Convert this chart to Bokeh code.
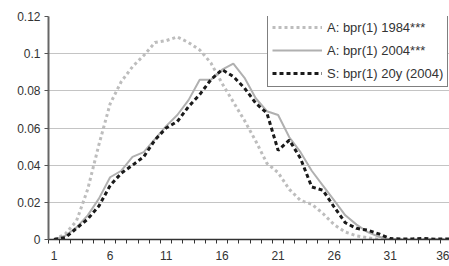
from bokeh.plotting import figure
from bokeh.models import Range1d, FixedTicker, CustomJSTickFormatter, Legend, LegendItem
from bokeh.embed import file_html
from bokeh.resources import INLINE

categories = list(range(1, 38))
a_1984 = [0.0, 0.003, 0.010, 0.027, 0.051, 0.073, 0.085, 0.093, 0.099, 0.106,
          0.107, 0.109, 0.106, 0.102, 0.095, 0.084, 0.074, 0.064, 0.053, 0.041,
          0.036, 0.027, 0.021, 0.019, 0.014, 0.008, 0.004, 0.002, 0.001, 0.0,
          0.0, 0.0, 0.0, 0.0, 0.0, 0.0, 0.0]
a_2004 = [0.0, 0.002, 0.0065, 0.013, 0.022, 0.0335, 0.037, 0.0445, 0.047, 0.054,
          0.061, 0.067, 0.075, 0.086, 0.086, 0.0914, 0.0946, 0.087, 0.076, 0.069,
          0.067, 0.055, 0.047, 0.037, 0.029, 0.021, 0.013, 0.008, 0.004, 0.0015,
          0.0, 0.0, 0.0, 0.0, 0.0, 0.0, 0.0]
s_2004 = [0.0, 0.001, 0.006, 0.011, 0.018, 0.029, 0.0357, 0.040, 0.0445, 0.0535,
          0.060, 0.0635, 0.0715, 0.078, 0.086, 0.0914, 0.0877, 0.0815, 0.0734, 0.068,
          0.048, 0.0535, 0.0436, 0.0283, 0.0265, 0.0175, 0.009, 0.006, 0.005, 0.003,
          0.0005, 0.0003, 0.0003, 0.0006, 0.0002, 0.0003, 0.0003]
x_tick_labels = [1, 6, 11, 16, 21, 26, 31, 36]
y_ticks = [0.0, 0.02, 0.04, 0.06, 0.08, 0.1, 0.12]
names = ["A: bpr(1) 1984***", "A: bpr(1) 2004***", "S: bpr(1) 20y (2004)"]

FONT = "Liberation Sans"
TXT = "#333333"

p = figure(width=449, height=266, output_backend="svg", toolbar_location=None,
           x_range=Range1d(0.5, 36.3), y_range=Range1d(0, 0.12),
           min_border_left=48, min_border_top=16, min_border_right=0, min_border_bottom=27)
p.outline_line_color = None
p.background_fill_color = "white"
p.border_fill_color = "white"

r1 = p.line(categories, a_1984, line_color="#bdbdbd", line_width=3, line_dash="3 3")
r2 = p.line(categories, a_2004, line_color="#b0b0b0", line_width=2)
r3 = p.line(categories, s_2004, line_color="#1a1a1a", line_width=3, line_dash="4 3")

# axes
p.xaxis.ticker = FixedTicker(ticks=x_tick_labels,
                             minor_ticks=[c - 0.5 for c in categories])
p.xaxis.major_tick_in = 0
p.xaxis.major_tick_out = 0
p.xaxis.minor_tick_in = 0
p.xaxis.minor_tick_out = 4
p.xaxis.minor_tick_line_color = "#333333"
p.xaxis.axis_line_color = "#333333"
p.xaxis.axis_line_width = 1.5
p.xaxis.major_label_text_font = FONT
p.xaxis.major_label_text_font_size = "12px"
p.xaxis.major_label_text_color = TXT
p.xaxis.major_label_standoff = 7

p.yaxis.ticker = FixedTicker(ticks=y_ticks, minor_ticks=[])
p.yaxis.formatter = CustomJSTickFormatter(code="return tick == 0 ? '0' : String(+tick.toFixed(2));")
p.yaxis.major_tick_in = 0
p.yaxis.major_tick_out = 4
p.yaxis.major_tick_line_color = "#555555"
p.yaxis.axis_line_color = "#666666"
p.yaxis.axis_line_width = 2
p.yaxis.major_label_text_font = FONT
p.yaxis.major_label_text_font_size = "12px"
p.yaxis.major_label_text_color = TXT
p.yaxis.major_label_standoff = 4

p.xgrid.grid_line_color = None
p.ygrid.ticker = FixedTicker(ticks=y_ticks)
p.ygrid.grid_line_color = "#c4c4c4"
p.ygrid.grid_line_width = 1

legend = Legend(items=[LegendItem(label=names[0], renderers=[r1]),
                       LegendItem(label=names[1], renderers=[r2]),
                       LegendItem(label=names[2], renderers=[r3])],
                location=(219, 152))
legend.border_line_color = "black"
legend.border_line_width = 1
legend.background_fill_color = "white"
legend.background_fill_alpha = 1
legend.label_text_font = FONT
legend.label_text_font_size = "13px"
legend.label_text_color = TXT
legend.glyph_width = 50
legend.glyph_height = 18
legend.label_standoff = 5
legend.padding = 4
legend.spacing = 5
legend.margin = 0
p.add_layout(legend)

open("out.html", "w").write(file_html(p, INLINE))
